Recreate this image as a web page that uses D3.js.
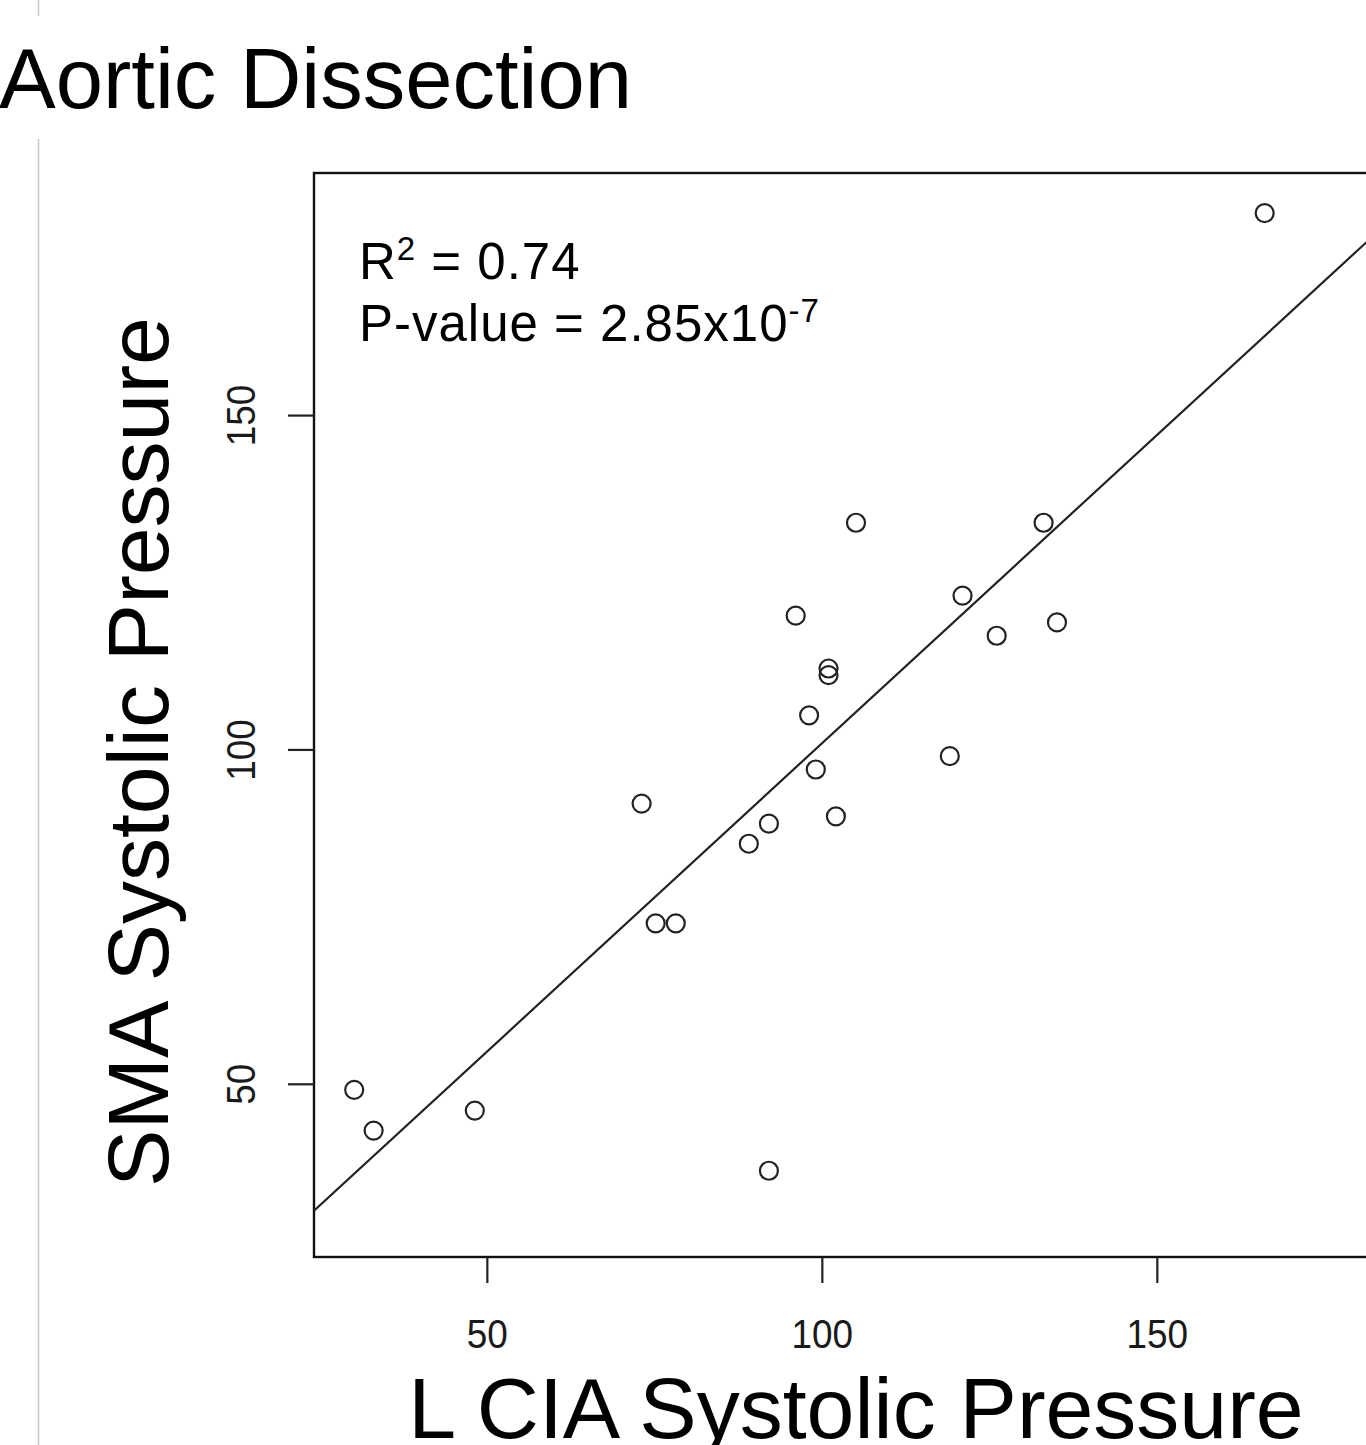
<!DOCTYPE html>
<html>
<head>
<meta charset="utf-8">
<script src="https://cdn.jsdelivr.net/npm/d3@7.9.0/dist/d3.min.js"></script>
<style>
  body { margin: 0; background: #fff; overflow: hidden; }
  svg { display: block; font-family: "Liberation Sans", Arial, sans-serif; }
</style>
</head>
<body>
<svg id="chart" width="1366" height="1445"></svg>
<script>
// L CIA systolic pressure (x) vs SMA systolic pressure (y)
const lciaPressure = [30.2, 33.1, 48.2, 92.1, 73.1, 75.2, 78.2, 89.1, 92.1, 102.1, 99.1,
  98.1, 101.0, 101.0, 96.1, 105.1, 119.1, 121.0, 126.1, 133.1, 135.1, 166.1];
const smaPressure = [49.1, 43.0, 46.0, 37.0, 91.9, 74.0, 74.0, 85.9, 88.9, 90.0, 97.0,
  105.1, 112.1, 111.1, 120.0, 133.9, 99.0, 123.0, 117.0, 133.9, 119.0, 180.2];
const fitLine = { intercept: 8.7, slope: 0.922 };
const xTicks = [50, 100, 150];
const yTicks = [50, 100, 150];
const xDomain = [24.2, 186];
const yDomain = [24.1, 186.2];

const svg = d3.select("#chart");
const margin = { top: 173, left: 314 };
const width = 1084;
const height = 1084;

// thin grey guide line on the left of the slide
svg.append("line").attr("x1", 38.5).attr("x2", 38.5).attr("y1", 0).attr("y2", 16)
  .attr("stroke", "#c8c8c8").attr("stroke-width", 1.5);
svg.append("line").attr("x1", 38.5).attr("x2", 38.5).attr("y1", 139).attr("y2", 1445)
  .attr("stroke", "#c8c8c8").attr("stroke-width", 1.5);

svg.append("text")
  .attr("x", -1).attr("y", 108)
  .attr("font-size", 85)
  .text("Aortic Dissection");

const g = svg.append("g").attr("transform", `translate(${margin.left},${margin.top})`);

const x = d3.scaleLinear().domain(xDomain).range([0, width]);
const y = d3.scaleLinear().domain(yDomain).range([height, 0]);

g.append("clipPath").attr("id", "plot-clip")
  .append("rect").attr("width", width).attr("height", height);

// box
g.append("rect")
  .attr("width", width).attr("height", height)
  .attr("fill", "none").attr("stroke", "#111").attr("stroke-width", 2.4);

// axes (R style: ticks outside, labels away from the box)
const xAxis = g.append("g").attr("transform", `translate(0,${height})`)
  .call(d3.axisBottom(x).tickValues(xTicks).tickSize(26).tickPadding(36).tickSizeOuter(0));
const yAxis = g.append("g")
  .call(d3.axisLeft(y).tickValues(yTicks).tickSize(26).tickPadding(33).tickSizeOuter(0));

[xAxis, yAxis].forEach(a => {
  a.select(".domain").remove();
  a.selectAll(".tick line").attr("stroke", "#222").attr("stroke-width", 2.2);
  a.selectAll(".tick text")
    .attr("font-family", "Liberation Sans, Arial, sans-serif")
    .attr("font-size", 41).attr("fill", "#1a1a1a");
});
xAxis.selectAll(".tick text").attr("dy", "0.71em")
  .attr("transform", "scale(0.9,1)");
yAxis.selectAll(".tick text")
  .attr("text-anchor", "middle").attr("dy", 0)
  .attr("x", null)
  .attr("transform", "translate(-59,0) rotate(-90) scale(0.9,1)");

// regression line
g.append("line")
  .attr("clip-path", "url(#plot-clip)")
  .attr("x1", x(xDomain[0])).attr("y1", y(fitLine.intercept + fitLine.slope * xDomain[0]))
  .attr("x2", x(xDomain[1])).attr("y2", y(fitLine.intercept + fitLine.slope * xDomain[1]))
  .attr("stroke", "#222").attr("stroke-width", 2.2);

// points
g.selectAll(".pt")
  .data(d3.zip(lciaPressure, smaPressure))
  .enter().append("circle")
  .attr("class", "pt")
  .attr("cx", d => x(d[0])).attr("cy", d => y(d[1]))
  .attr("r", 9)
  .attr("fill", "none").attr("stroke", "#222").attr("stroke-width", 2.2);

// annotation
const ann = svg.append("g").attr("font-size", 51).attr("fill", "#000")
  .attr("letter-spacing", 1);
const t1 = ann.append("text").attr("x", 359).attr("y", 279);
t1.append("tspan").text("R");
t1.append("tspan").attr("font-size", 33).attr("dy", -19).text("2");
t1.append("tspan").attr("dy", 19).text(" = 0.74");
const t2 = ann.append("text").attr("x", 359).attr("y", 341);
t2.append("tspan").text("P-value = 2.85x10");
t2.append("tspan").attr("font-size", 33).attr("dy", -19).text("-7");

// axis titles
svg.append("text")
  .attr("transform", "translate(168,752) rotate(-90)")
  .attr("text-anchor", "middle")
  .attr("font-size", 86)
  .text("SMA Systolic Pressure");
svg.append("text")
  .attr("x", 856).attr("y", 1438)
  .attr("text-anchor", "middle")
  .attr("font-size", 86)
  .text("L CIA Systolic Pressure");
</script>
</body>
</html>
